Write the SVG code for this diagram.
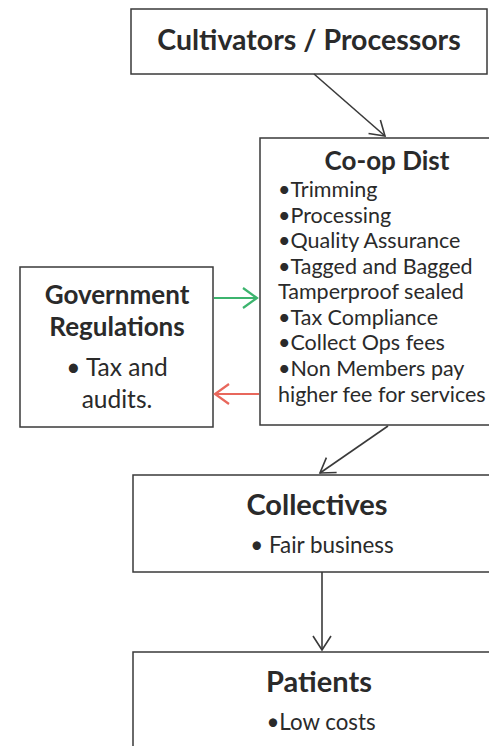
<svg xmlns="http://www.w3.org/2000/svg" width="489" height="746" viewBox="0 0 489 746">
<style>
.box{fill:#fff;stroke:#3a3a3a;stroke-width:1.5}
.h{font-family:Lato,"Open Sans",sans-serif;font-weight:bold;fill:#2a2a2a}
.t{font-family:Lato,"Open Sans",sans-serif;fill:#2a2a2a}
.c{fill:none;stroke:#3a3a3a;stroke-width:1.6}
</style>
<defs>
<marker id="ah" viewBox="0 0 24 24" refX="20" refY="12" markerWidth="24" markerHeight="24" markerUnits="userSpaceOnUse" orient="auto">
<path d="M6,3 L20,12 L6,21" fill="none" stroke="#3a3a3a" stroke-width="1.6"/>
</marker>
<marker id="ahg" viewBox="0 0 24 24" refX="20" refY="12" markerWidth="24" markerHeight="24" markerUnits="userSpaceOnUse" orient="auto">
<path d="M6,2 L20,12 L6,22" fill="none" stroke="#3cb46e" stroke-width="2.2"/>
</marker>
<marker id="ahr" viewBox="0 0 24 24" refX="20" refY="12" markerWidth="24" markerHeight="24" markerUnits="userSpaceOnUse" orient="auto">
<path d="M6,2 L20,12 L6,22" fill="none" stroke="#e8675c" stroke-width="2.2"/>
</marker>
</defs>
<rect width="489" height="746" fill="#fff"/>
<g id="cultivators">
<rect class="box" x="131" y="9" width="356" height="65"/>
<text class="h" x="309" y="50" font-size="28.5" text-anchor="middle">Cultivators / Processors</text>
</g>
<g id="coop">
<rect class="box" x="260" y="138" width="240" height="287"/>
<text class="h" x="387" y="170" font-size="26" text-anchor="middle">Co-op Dist</text>
<g class="t" font-size="21.5">
<text x="278" y="197">•Trimming</text>
<text x="278" y="223">•Processing</text>
<text x="278" y="248">•Quality Assurance</text>
<text x="278" y="274">•Tagged and Bagged</text>
<text x="278" y="299">Tamperproof sealed</text>
<text x="278" y="325">•Tax Compliance</text>
<text x="278" y="350">•Collect Ops fees</text>
<text x="278" y="376">•Non Members pay</text>
<text x="278" y="402">higher fee for services</text>
</g>
</g>
<g id="government">
<rect class="box" x="20" y="267" width="193" height="160"/>
<text class="h" x="117" y="304" font-size="26" text-anchor="middle">Government</text>
<text class="h" x="117" y="336" font-size="26" text-anchor="middle">Regulations</text>
<text class="t" x="117" y="376" font-size="24.5" text-anchor="middle">• Tax and</text>
<text class="t" x="117" y="408" font-size="24.5" text-anchor="middle">audits.</text>
</g>
<g id="collectives">
<rect class="box" x="133" y="475" width="367" height="97"/>
<text class="h" x="317" y="515" font-size="29" text-anchor="middle">Collectives</text>
<text class="t" x="322" y="553" font-size="22.4" text-anchor="middle">• Fair business</text>
</g>
<g id="patients">
<rect class="box" x="133" y="652" width="367" height="110"/>
<text class="h" x="319" y="692" font-size="29" text-anchor="middle">Patients</text>
<text class="t" x="321" y="730" font-size="22.3" text-anchor="middle">•Low costs</text>
</g>
<g id="connectors">
<line class="c" x1="314" y1="74" x2="385" y2="136" marker-end="url(#ah)"/>
<line x1="214" y1="298" x2="257" y2="298" stroke="#3cb46e" stroke-width="2.2" marker-end="url(#ahg)"/>
<line x1="259" y1="394" x2="215" y2="394" stroke="#e8675c" stroke-width="2.2" marker-end="url(#ahr)"/>
<line class="c" x1="388" y1="426" x2="320" y2="473" marker-end="url(#ah)"/>
<line class="c" x1="322" y1="572" x2="322" y2="650" marker-end="url(#ah)"/>
</g>
</svg>
